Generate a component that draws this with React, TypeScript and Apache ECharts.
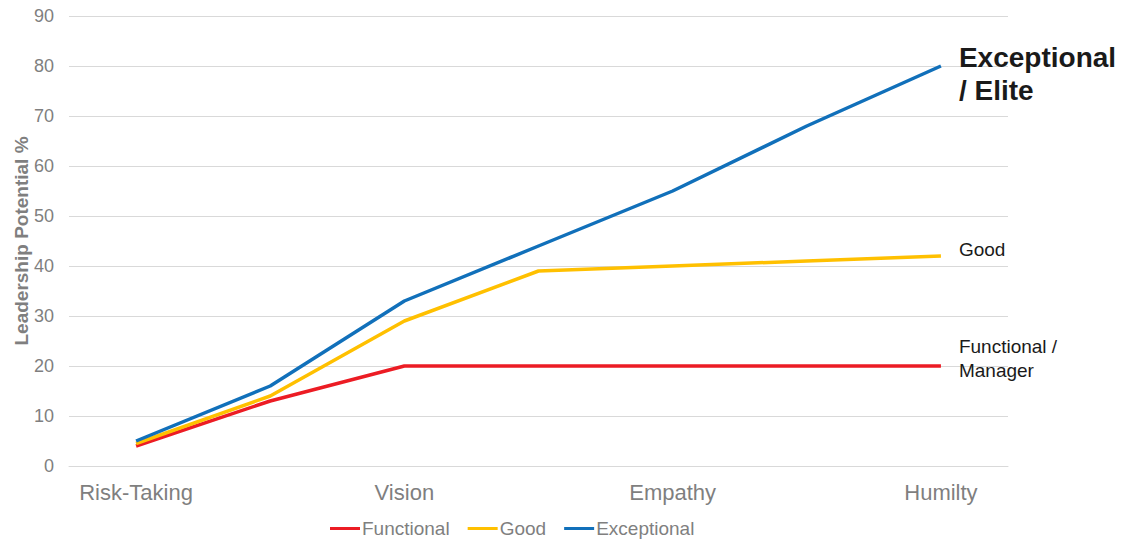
import React, { useEffect, useRef } from "react";
import * as echarts from "echarts";

const categories = ["Risk-Taking", "", "Vision", "", "Empathy", "", "Humilty"];
const functional = [4, 13, 20, 20, 20, 20, 20];
const good = [4.5, 14, 29, 39, 40, 41, 42];
const exceptional = [5, 16, 33, 44, 55, 68, 80];
const yTicks = { min: 0, max: 90, interval: 10 };

const FONT = "'Liberation Sans', Arial, sans-serif";

export default function App() {
  const ref = useRef<HTMLDivElement>(null);
  useEffect(() => {
    if (!ref.current) return;
    const chart = echarts.init(ref.current, undefined, { renderer: "svg" });
    const mk = (name: string, data: number[], color: string, endLabel: any) => ({
      name,
      type: "line",
      data,
      showSymbol: false,
      symbol: "none",
      lineStyle: { color, width: 3.5 },
      itemStyle: { color },
      endLabel,
      z: 3,
    });
    chart.setOption({
      animation: false,
      textStyle: { fontFamily: FONT },
      grid: { left: 69, right: 113, top: 16, bottom: 76, containLabel: false, outerBoundsMode: "none" },
      legend: {
        top: 514,
        left: 325,
        icon: "rect",
        itemWidth: 30,
        itemHeight: 3,
        itemGap: 18,
        textStyle: { color: "#7f7f7f", fontSize: 19, fontFamily: FONT, padding: [0, 0, 0, -3] },
        data: ["Functional", "Good", "Exceptional"],
      },
      xAxis: {
        type: "category",
        data: categories,
        boundaryGap: true,
        axisLine: { show: true, lineStyle: { color: "#d9d9d9", width: 1 } },
        axisTick: { show: false },
        axisLabel: { color: "#7f7f7f", fontSize: 22, margin: 15, interval: 0, fontFamily: FONT },
      },
      yAxis: {
        type: "value",
        min: yTicks.min,
        max: yTicks.max,
        interval: yTicks.interval,
        name: "Leadership Potential %",
        nameLocation: "middle",
        nameGap: 38,
        nameMoveOverlap: false,
        nameTextStyle: { color: "#7f7f7f", fontSize: 19, fontWeight: "bold", fontFamily: FONT },
        axisLine: { show: false },
        axisTick: { show: false },
        axisLabel: { color: "#7f7f7f", fontSize: 18, margin: 15, fontFamily: FONT },
        splitLine: { lineStyle: { color: "#d9d9d9", width: 1 } },
      },
      series: [
        mk("Functional", functional, "#EC1C24", {
          show: true,
          formatter: "Functional /\nManager",
          color: "#1a1a1a",
          fontSize: 19,
          lineHeight: 24,
          distance: 18,
          offset: [0, -8],
          align: "left",
          fontFamily: FONT,
        }),
        mk("Good", good, "#FFC000", {
          show: true,
          formatter: "Good",
          color: "#1a1a1a",
          fontSize: 19,
          distance: 18,
          offset: [0, -7],
          align: "left",
          fontFamily: FONT,
        }),
        mk("Exceptional", exceptional, "#1170BA", {
          show: true,
          formatter: "Exceptional\n/ Elite",
          color: "#1a1a1a",
          fontSize: 28,
          fontWeight: "bold",
          lineHeight: 33,
          distance: 18,
          offset: [0, 8],
          align: "left",
          fontFamily: FONT,
        }),
      ],
    });
    return () => chart.dispose();
  }, []);
  return <div ref={ref} style={{ width: 1121, height: 542, position: "absolute", left: 0, top: 0 }} />;
}
